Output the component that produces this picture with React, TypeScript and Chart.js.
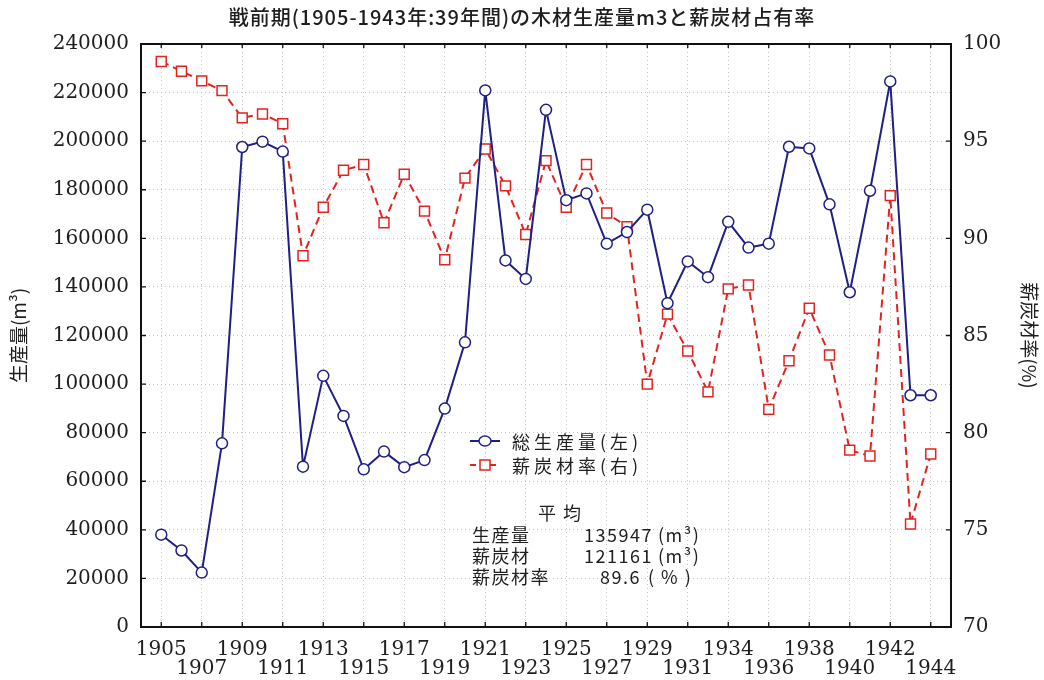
import { useEffect, useRef } from "react";
import { Chart, registerables } from "chart.js";

Chart.register(...registerables);

// 1905–1943, one value per year
const years = [
  1905, 1906, 1907, 1908, 1909, 1910, 1911, 1912, 1913, 1914,
  1915, 1916, 1917, 1918, 1919, 1920, 1921, 1922, 1923, 1924,
  1925, 1926, 1927, 1928, 1929, 1930, 1931, 1932, 1933, 1934,
  1935, 1936, 1937, 1938, 1939, 1940, 1941, 1942, 1943,
];

// 総生産量 (m3), left axis
const totalProduction = [
  38000, 31500, 22400, 75600, 197600, 199800, 195700, 66000, 103400, 86900,
  64900, 72200, 65800, 68700, 89900, 117200, 220900, 150900, 143300, 212900,
  175700, 178500, 157800, 162600, 171800, 133300, 150500, 144000, 166800, 156200,
  157800, 197700, 197000, 174000, 137800, 179600, 224600, 95400, 95400,
];

// 薪炭材率 (%), right axis
const fuelwoodShare = [
  99.1, 98.6, 98.1, 97.6, 96.2, 96.4, 95.9, 89.1, 91.6, 93.5,
  93.8, 90.8, 93.3, 91.4, 88.9, 93.1, 94.6, 92.7, 90.2, 94.0,
  91.6, 93.8, 91.3, 90.6, 82.5, 86.1, 84.2, 82.1, 87.4, 87.6,
  81.2, 83.7, 86.4, 84.0, 79.1, 78.8, 92.2, 75.3, 78.9,
];

// x-axis labels, one every second year, printed on two staggered rows
const xTickLabels = [
  "1905", "1907", "1909", "1911", "1913", "1915", "1917", "1919", "1921", "1923",
  "1925", "1927", "1929", "1931", "1934", "1936", "1938", "1940", "1942", "1944",
];

const titleText = "戦前期(1905-1943年:39年間)の木材生産量m3と薪炭材占有率";
const legendLabels = ["総生産量(左)", "薪炭材率(右)"];
const averageHeading = "平 均";
const averageNames = ["生産量", "薪炭材", "薪炭材率"];
const averageValues = ["135947", "121161", "89.6"];
const averageUnits = ["(m³)", "(m³)", "( % )"];

const BLUE = "#1f1f85";
const RED = "#e3231e";
const GRID = "#c4c4c4";
const INK = "#1e1e1e";
const SERIF = "'DejaVu Serif', serif";
const GOTHIC = "'Noto Sans CJK JP', 'Noto Sans', sans-serif";

// frame around the plot with inward tick marks on all four sides
const framePlugin = {
  id: "frame",
  beforeDatasetsDraw(chart: any) {
    const { ctx, chartArea: a, scales } = chart;
    ctx.save();
    ctx.strokeStyle = "#111";
    ctx.lineWidth = 2;
    ctx.strokeRect(a.left, a.top, a.right - a.left, a.bottom - a.top);
    ctx.lineWidth = 1.3;
    ctx.beginPath();
    scales.x.ticks.forEach((t: any) => {
      const px = scales.x.getPixelForValue(t.value);
      ctx.moveTo(px, a.bottom);
      ctx.lineTo(px, a.bottom - 5);
      ctx.moveTo(px, a.top);
      ctx.lineTo(px, a.top + 4);
    });
    scales.y.ticks.forEach((t: any) => {
      const py = scales.y.getPixelForValue(t.value);
      ctx.moveTo(a.left, py);
      ctx.lineTo(a.left + 5, py);
    });
    scales.y1.ticks.forEach((t: any) => {
      const py = scales.y1.getPixelForValue(t.value);
      ctx.moveTo(a.right, py);
      ctx.lineTo(a.right - 5, py);
    });
    ctx.stroke();
    ctx.restore();
  },
};

// title, in-plot legend and the averages block
const notesPlugin = {
  id: "notes",
  afterDraw(chart: any) {
    const { ctx, chartArea: a, width } = chart;
    ctx.save();
    ctx.fillStyle = INK;
    ctx.textBaseline = "middle";

    // title
    ctx.font = `500 20px ${GOTHIC}`;
    ctx.textAlign = "center";
    (ctx as any).letterSpacing = "1px";
    ctx.fillText(titleText, width / 2, 17);

    // legend
    const lx = a.left + 329;
    const rows = [a.top + 397, a.top + 421];
    ctx.textAlign = "left";
    ctx.font = `18px ${GOTHIC}`;
    (ctx as any).letterSpacing = "4px";
    rows.forEach((y, i) => {
      ctx.lineWidth = 2;
      ctx.strokeStyle = i === 0 ? BLUE : RED;
      ctx.setLineDash(i === 0 ? [] : [6, 4]);
      ctx.beginPath();
      ctx.moveTo(lx, y);
      ctx.lineTo(lx + 30, y);
      ctx.stroke();
      ctx.setLineDash([]);
      ctx.fillStyle = "#fff";
      ctx.lineWidth = 1.5;
      ctx.beginPath();
      if (i === 0) {
        ctx.ellipse(lx + 15, y, 6, 5, 0, 0, Math.PI * 2);
      } else {
        ctx.rect(lx + 10, y - 5, 10, 10);
      }
      ctx.fill();
      ctx.stroke();
      ctx.fillStyle = INK;
      ctx.fillText(legendLabels[i], lx + 42, y + 1);
    });

    // averages
    const valueRight = [512, 512, 500];
    const unitLeft = [517, 517, 507];
    ctx.font = `18px ${GOTHIC}`;
    (ctx as any).letterSpacing = "1.5px";
    ctx.fillText(averageHeading, a.left + 397, a.top + 469);
    averageNames.forEach((name, i) => {
      const y = a.top + 491 + i * 21;
      ctx.textAlign = "left";
      ctx.fillText(name, a.left + 331, y);
      ctx.textAlign = "right";
      ctx.fillText(averageValues[i], a.left + valueRight[i], y);
      ctx.textAlign = "left";
      ctx.fillText(averageUnits[i], a.left + unitLeft[i], y);
    });
    ctx.restore();
  },
};

export default function App() {
  const canvasRef = useRef<HTMLCanvasElement | null>(null);

  useEffect(() => {
    if (!canvasRef.current) return;
    const chart = new Chart(canvasRef.current, {
      type: "line",
      data: {
        datasets: [
          {
            label: legendLabels[0],
            data: totalProduction.map((v, i) => ({ x: i, y: v })),
            yAxisID: "y",
            borderColor: BLUE,
            borderWidth: 2,
            backgroundColor: "#fff",
            pointStyle: "circle",
            pointRadius: 5.5,
            pointBorderWidth: 1.5,
            pointBorderColor: BLUE,
            pointBackgroundColor: "#fff",
            tension: 0,
            order: 1,
          },
          {
            label: legendLabels[1],
            data: fuelwoodShare.map((v, i) => ({ x: i, y: v })),
            yAxisID: "y1",
            borderColor: RED,
            borderWidth: 2,
            borderDash: [8, 5],
            backgroundColor: "#fff",
            pointStyle: "rect",
            pointRadius: 7,
            pointBorderWidth: 1.5,
            pointBorderColor: RED,
            pointBackgroundColor: "#fff",
            tension: 0,
            order: 2,
          },
        ],
      },
      options: {
        responsive: false,
        animation: false,
        layout: { padding: { top: 44, left: 0, right: 0, bottom: 0 } },
        plugins: {
          legend: { display: false },
          title: { display: false },
          tooltip: { enabled: false },
        },
        scales: {
          x: {
            type: "linear",
            min: -1,
            max: years.length,
            afterBuildTicks: (s: any) => {
              s.ticks = xTickLabels.map((_, i) => ({ value: i * 2 }));
            },
            afterFit: (s: any) => {
              s.height = 53;
            },
            grid: { color: GRID, lineWidth: 1, drawTicks: false },
            border: { display: false, dash: [1, 3] },
            ticks: {
              autoSkip: false,
              maxRotation: 0,
              minRotation: 0,
              padding: 13,
              color: INK,
              font: { family: SERIF, size: 20, lineHeight: 0.95 },
              callback: (v: any) => {
                const i = Math.round(Number(v) / 2);
                const lab = xTickLabels[i] ?? "";
                return i % 2 === 0 ? lab : ["", lab];
              },
            },
          },
          y: {
            position: "left",
            min: 0,
            max: 240000,
            afterFit: (s: any) => {
              s.width = 141;
            },
            grid: { color: GRID, lineWidth: 1, drawTicks: false },
            border: { display: false, dash: [1, 3] },
            ticks: {
              stepSize: 20000,
              padding: 12,
              color: INK,
              font: { family: SERIF, size: 20 },
              callback: (v: any) => String(v),
            },
            title: {
              display: true,
              text: "生産量(m³)",
              color: INK,
              padding: { top: 7, bottom: 0 },
              font: { family: GOTHIC, size: 19 },
            },
          },
          y1: {
            position: "right",
            min: 70,
            max: 100,
            afterFit: (s: any) => {
              s.width = 93;
            },
            grid: { drawOnChartArea: false, drawTicks: false },
            border: { display: false },
            ticks: {
              stepSize: 5,
              padding: 12,
              color: INK,
              font: { family: SERIF, size: 20 },
            },
            title: {
              display: true,
              text: "薪炭材率(%)",
              color: INK,
              padding: { top: 3, bottom: 0 },
              font: { family: GOTHIC, size: 19 },
            },
          },
        },
      },
      plugins: [framePlugin, notesPlugin],
    } as any);
    return () => chart.destroy();
  }, []);

  return (
    <div style={{ position: "fixed", left: 0, top: 0, width: 1044, height: 680, background: "#fff" }}>
      <canvas ref={canvasRef} width={1044} height={680} style={{ display: "block" }} />
    </div>
  );
}
